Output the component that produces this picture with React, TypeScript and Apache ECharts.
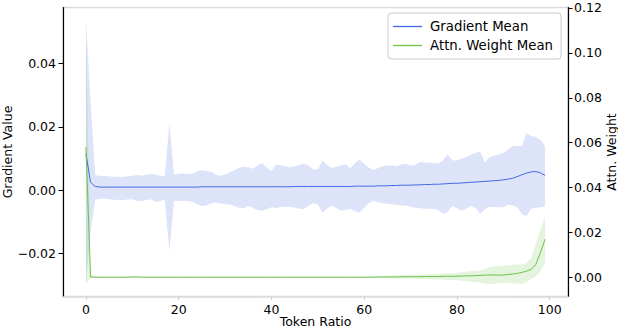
import React, { useEffect, useRef } from "react";
import * as echarts from "echarts";

// ---- data ----
const tokenRatio = [
  0, 1, 2, 3, 4, 5, 6, 7, 8, 9, 10, 11, 12, 13, 14, 15, 16, 17, 18, 19,
  20, 21, 22, 23, 24, 25, 26, 27, 28, 29, 30, 31, 32, 33, 34, 35, 36, 37, 38, 39,
  40, 41, 42, 43, 44, 45, 46, 47, 48, 49, 50, 51, 52, 53, 54, 55, 56, 57, 58, 59,
  60, 61, 62, 63, 64, 65, 66, 67, 68, 69, 70, 71, 72, 73, 74, 75, 76, 77, 78, 79,
  80, 81, 82, 83, 84, 85, 86, 87, 88, 89, 90, 91, 92, 93, 94, 95, 96, 97, 98, 99,
];

const gradMean = [
  0.0115, 0.0025, 0.0012, 0.001, 0.001, 0.001, 0.001, 0.001, 0.001, 0.001,
  0.001, 0.001, 0.001, 0.001, 0.001, 0.001, 0.001, 0.001, 0.001, 0.001,
  0.001, 0.001, 0.001, 0.001, 0.001, 0.0011, 0.0011, 0.0011, 0.0011, 0.0011,
  0.0011, 0.0011, 0.0011, 0.0011, 0.0011, 0.0011, 0.0011, 0.0011, 0.0011, 0.0011,
  0.0011, 0.0011, 0.0011, 0.0011, 0.0011, 0.0012, 0.0012, 0.0012, 0.0012, 0.0012,
  0.0012, 0.0012, 0.0012, 0.0012, 0.0012, 0.0012, 0.0012, 0.0012, 0.0013, 0.0013,
  0.0013, 0.0013, 0.0013, 0.0014, 0.0014, 0.0014, 0.0015, 0.0015, 0.0016, 0.0016,
  0.0016, 0.0017, 0.0017, 0.0018, 0.0018, 0.0019, 0.0019, 0.002, 0.0021, 0.0022,
  0.0022, 0.0023, 0.0024, 0.0025, 0.0026, 0.0027, 0.0028, 0.0029, 0.003, 0.0031,
  0.0033, 0.0035, 0.0038, 0.0043, 0.0049, 0.0054, 0.0058, 0.0059, 0.0055, 0.0047,
];

const gradUpper = [
  0.0537, 0.028, 0.0048, 0.0045, 0.0046, 0.0044, 0.0042, 0.0043, 0.0042, 0.0044,
  0.0046, 0.0048, 0.0046, 0.0049, 0.0052, 0.005, 0.0046, 0.0045, 0.0212, 0.0048,
  0.0052, 0.0053, 0.0051, 0.0052, 0.006, 0.0063, 0.0061, 0.0058, 0.005, 0.0045,
  0.005, 0.0057, 0.0062, 0.0071, 0.0074, 0.0073, 0.0068, 0.0078, 0.0086, 0.0072,
  0.006, 0.0081, 0.0079, 0.0076, 0.0073, 0.0076, 0.008, 0.0084, 0.0078, 0.0066,
  0.0065, 0.0094, 0.008, 0.007, 0.0074, 0.0078, 0.0082, 0.0069, 0.0085, 0.0097,
  0.0084, 0.0072, 0.0063, 0.007, 0.0076, 0.0078, 0.0077, 0.0076, 0.0081, 0.0084,
  0.0077, 0.008, 0.0089, 0.0088, 0.0087, 0.0086, 0.0084, 0.0095, 0.0113, 0.0095,
  0.0094, 0.01, 0.0104, 0.0112, 0.0118, 0.0123, 0.0088, 0.0105, 0.011, 0.0113,
  0.0118, 0.0128, 0.014, 0.014, 0.0139, 0.018, 0.0172, 0.0168, 0.016, 0.014,
];

const gradLower = [
  -0.0293, -0.013, -0.003, -0.0027, -0.0026, -0.0028, -0.003, -0.0031, -0.0031, -0.0029,
  -0.0028, -0.0033, -0.0035, -0.0031, -0.0028, -0.0036, -0.0034, -0.003, -0.0192, -0.0034,
  -0.0034, -0.0033, -0.0035, -0.0036, -0.0044, -0.005, -0.0047, -0.0041, -0.0039, -0.0042,
  -0.0044, -0.0045, -0.005, -0.0055, -0.0057, -0.005, -0.0055, -0.0062, -0.0065, -0.006,
  -0.0054, -0.0056, -0.0053, -0.0052, -0.0052, -0.0055, -0.0058, -0.0059, -0.005, -0.004,
  -0.0045, -0.007, -0.0058, -0.0049, -0.0055, -0.0065, -0.0062, -0.0058, -0.0066, -0.007,
  -0.0055, -0.004, -0.0033, -0.0038, -0.0041, -0.0042, -0.0045, -0.0046, -0.0048, -0.0049,
  -0.0052, -0.0055, -0.0057, -0.0058, -0.0058, -0.0059, -0.0062, -0.0075, -0.0068, -0.005,
  -0.0056, -0.0065, -0.0058, -0.005, -0.0055, -0.0075, -0.006, -0.0052, -0.0053, -0.0054,
  -0.0054, -0.0046, -0.0048, -0.0054, -0.0075, -0.0081, -0.0058, -0.0055, -0.0054, -0.0052,
];

const attnMean = [
  0.058, 0.0002, 0.0001, 0.0001, 0.0001, 0.0001, 0.0001, 0.0001, 0.0001, 0.0001,
  0.0002, 0.0002, 0.0001, 0.0001, 0.0001, 0.0001, 0.0001, 0.0001, 0.0001, 0.0001,
  0.0001, 0.0001, 0.0001, 0.0001, 0.0001, 0.0001, 0.0001, 0.0001, 0.0001, 0.0001,
  0.0001, 0.0001, 0.0001, 0.0001, 0.0001, 0.0001, 0.0001, 0.0001, 0.0001, 0.0001,
  0.0001, 0.0001, 0.0001, 0.0001, 0.0001, 0.0001, 0.0001, 0.0001, 0.0001, 0.0001,
  0.0001, 0.0001, 0.0001, 0.0001, 0.0001, 0.0001, 0.0001, 0.0001, 0.0001, 0.0001,
  0.0001, 0.0001, 0.0001, 0.0002, 0.0002, 0.0002, 0.0002, 0.0002, 0.0003, 0.0003,
  0.0003, 0.0003, 0.0003, 0.0004, 0.0004, 0.0004, 0.0004, 0.0005, 0.0005, 0.0005,
  0.0006, 0.0006, 0.0007, 0.0007, 0.0008, 0.0009, 0.001, 0.0011, 0.0011, 0.001,
  0.0011, 0.0013, 0.0015, 0.0018, 0.0022, 0.0028, 0.0036, 0.0058, 0.011, 0.017,
];

const attnUpper = [
  0.114, 0.001, 0.0003, 0.0003, 0.0003, 0.0003, 0.0003, 0.0003, 0.0003, 0.0003,
  0.0006, 0.0005, 0.0003, 0.0003, 0.0003, 0.0003, 0.0003, 0.0003, 0.0003, 0.0003,
  0.0003, 0.0003, 0.0003, 0.0003, 0.0003, 0.0003, 0.0003, 0.0003, 0.0003, 0.0003,
  0.0003, 0.0003, 0.0003, 0.0003, 0.0003, 0.0003, 0.0003, 0.0003, 0.0003, 0.0003,
  0.0003, 0.0003, 0.0003, 0.0003, 0.0003, 0.0003, 0.0003, 0.0003, 0.0003, 0.0003,
  0.0003, 0.0003, 0.0003, 0.0003, 0.0003, 0.0003, 0.0003, 0.0003, 0.0003, 0.0003,
  0.0004, 0.0004, 0.0005, 0.0005, 0.0006, 0.0007, 0.0008, 0.0009, 0.001, 0.0011,
  0.0012, 0.0012, 0.0013, 0.0014, 0.0014, 0.0015, 0.0016, 0.0017, 0.0018, 0.0019,
  0.0021, 0.0023, 0.0025, 0.0027, 0.0029, 0.0031, 0.0036, 0.0046, 0.005, 0.0052,
  0.0053, 0.0054, 0.0056, 0.0057, 0.0058, 0.0065, 0.0088, 0.015, 0.0215, 0.0272,
];

const attnLower = [
  -0.0028, -0.0003, -0.0001, -0.0001, -0.0001, -0.0001, -0.0001, -0.0001, -0.0001, -0.0001,
  -0.0002, -0.0001, -0.0001, -0.0001, -0.0001, -0.0001, -0.0001, -0.0001, -0.0001, -0.0001,
  -0.0001, -0.0001, -0.0001, -0.0001, -0.0001, -0.0001, -0.0001, -0.0001, -0.0001, -0.0001,
  -0.0001, -0.0001, -0.0001, -0.0001, -0.0001, -0.0001, -0.0001, -0.0001, -0.0001, -0.0001,
  -0.0001, -0.0001, -0.0001, -0.0001, -0.0001, -0.0001, -0.0001, -0.0001, -0.0001, -0.0001,
  -0.0001, -0.0001, -0.0001, -0.0001, -0.0001, -0.0001, -0.0001, -0.0001, -0.0001, -0.0001,
  -0.0001, -0.0002, -0.0002, -0.0002, -0.0003, -0.0003, -0.0004, -0.0004, -0.0005, -0.0005,
  -0.0006, -0.0006, -0.0007, -0.0007, -0.0008, -0.0008, -0.0009, -0.001, -0.0011, -0.0012,
  -0.0013, -0.0015, -0.0017, -0.0019, -0.0022, -0.0024, -0.0027, -0.0029, -0.0028, -0.0026,
  -0.0025, -0.0024, -0.0026, -0.0028, -0.0029, -0.0022, -0.0006, 0.0004, 0.0028, 0.0065,
];

const xTicks = [0, 20, 40, 60, 80, 100];
const leftTicks = [-0.02, 0, 0.02, 0.04];
const rightTicks = [0, 0.02, 0.04, 0.06, 0.08, 0.1, 0.12];

const BLUE = "#4169e1";
const GREEN = "#6cc24a";
const FONT = "DejaVu Sans";

const fmt = (v: number) => (v < 0 ? "\u2212" + Math.abs(v).toFixed(2) : v.toFixed(2));

function bandSeries(upper: number[], lower: number[], yAxisIndex: number, color: string, opacity: number) {
  return {
    type: "custom",
    yAxisIndex,
    silent: true,
    data: tokenRatio.map((x, i) => [x, upper[i], lower[i]]),
    encode: { x: 0, y: [1, 2] },
    renderItem: (params: any, api: any) => {
      if (params.dataIndex !== 0) return null;
      const top = tokenRatio.map((x, i) => api.coord([x, upper[i]]));
      const bottom = tokenRatio.map((x, i) => api.coord([x, lower[i]])).reverse();
      return {
        type: "polygon",
        shape: { points: top.concat(bottom) },
        style: { fill: color, opacity, stroke: "none" },
      };
    },
  };
}

export default function App() {
  const ref = useRef<HTMLDivElement>(null);
  useEffect(() => {
    if (!ref.current) return;
    const chart = echarts.init(ref.current, null, { renderer: "svg" });
    const pairs = (arr: number[]) => arr.map((v, i) => [tokenRatio[i], v]);
    chart.setOption({
      animation: false,
      textStyle: { fontFamily: FONT },
      grid: {
        left: 63,
        right: 50,
        top: 7.5,
        bottom: 31.5,
        outerBoundsMode: "none",
        containLabel: false,
        show: true,
        borderColor: "#dcdcdc",
        borderWidth: 1.5,
        backgroundColor: "transparent",
      },
      legend: {
        right: 57,
        top: 13,
        orient: "vertical",
        padding: [6, 8, 6, 5],
        itemGap: 4,
        itemWidth: 29,
        itemHeight: 1.3,
        icon: "rect",
        borderColor: "#cccccc",
        borderWidth: 1,
        borderRadius: 3,
        backgroundColor: "rgba(255,255,255,0.8)",
        data: ["Gradient Mean", "Attn. Weight Mean"],
        textStyle: { fontFamily: FONT, fontSize: 13.3, color: "#000", padding: [0, 0, 0, 3], lineHeight: 15 },
      },
      xAxis: {
        type: "value",
        min: -4.95,
        max: 103.95,
        name: "Token Ratio",
        nameLocation: "middle",
        nameGap: 18,
        nameMoveOverlap: false,
        nameTextStyle: { fontFamily: FONT, fontSize: 12.5, color: "#000" },
        axisLine: { show: true, onZero: false, lineStyle: { color: "#dcdcdc", width: 1.5 } },
        axisTick: { show: true, length: 3.5, customValues: xTicks, lineStyle: { color: "#cccccc" } },
        axisLabel: {
          customValues: xTicks,
          margin: 6,
          fontFamily: FONT,
          fontSize: 12.5,
          color: "#000",
        },
        splitLine: { show: false },
      },
      yAxis: [
        {
          type: "value",
          min: -0.03354,
          max: 0.0577,
          position: "left",
          name: "Gradient Value",
          nameLocation: "middle",
          nameRotate: 90,
          nameGap: 49,
          nameMoveOverlap: false,
          nameTextStyle: { fontFamily: FONT, fontSize: 12.5, color: "#000" },
          axisLine: { show: true, onZero: false, lineStyle: { color: "#000", width: 1.2 } },
          axisTick: { show: true, length: 4.5, customValues: leftTicks, lineStyle: { color: "#000" } },
          axisLabel: {
            customValues: leftTicks,
            formatter: fmt,
            margin: 7,
            fontFamily: FONT,
            fontSize: 12.5,
            color: "#000",
          },
          splitLine: { show: false },
        },
        {
          type: "value",
          min: -0.0085,
          max: 0.1202,
          position: "right",
          name: "Attn. Weight",
          nameLocation: "middle",
          nameRotate: 90,
          nameGap: 37,
          nameMoveOverlap: false,
          nameTextStyle: { fontFamily: FONT, fontSize: 12.5, color: "#000" },
          axisLine: { show: true, onZero: false, lineStyle: { color: "#000", width: 1.2 } },
          axisTick: { show: true, length: 4.5, customValues: rightTicks, lineStyle: { color: "#000" } },
          axisLabel: {
            customValues: rightTicks,
            formatter: fmt,
            margin: 6,
            lineHeight: 12,
            fontFamily: FONT,
            fontSize: 12.5,
            color: "#000",
          },
          splitLine: { show: false },
        },
      ],
      series: [
        bandSeries(gradUpper, gradLower, 0, BLUE, 0.18),
        {
          name: "Gradient Mean",
          type: "line",
          yAxisIndex: 0,
          data: pairs(gradMean),
          symbol: "none",
          itemStyle: { color: BLUE },
          lineStyle: { color: BLUE, width: 1 },
        },
        bandSeries(attnUpper, attnLower, 1, GREEN, 0.18),
        {
          name: "Attn. Weight Mean",
          type: "line",
          yAxisIndex: 1,
          data: pairs(attnMean),
          symbol: "none",
          itemStyle: { color: GREEN },
          lineStyle: { color: GREEN, width: 1 },
        },
      ],
    });
    return () => chart.dispose();
  }, []);
  return (
    <div
      ref={ref}
      style={{ position: "fixed", left: 0, top: 0, width: 618, height: 328, background: "#fff" }}
    />
  );
}
